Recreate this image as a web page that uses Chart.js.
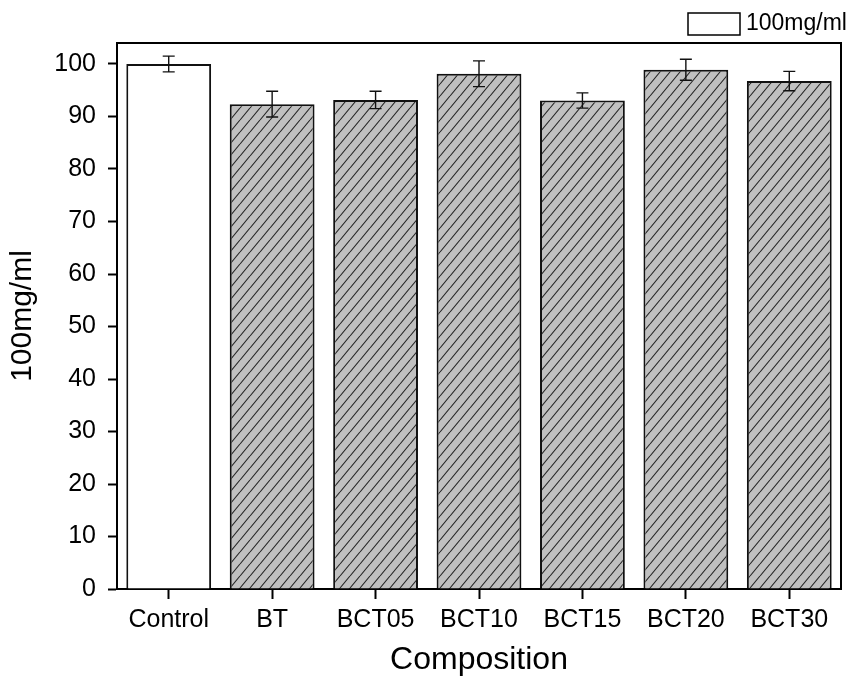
<!DOCTYPE html>
<html>
<head>
<meta charset="utf-8">
<script src="https://cdn.jsdelivr.net/npm/chart.js@4.4.1/dist/chart.umd.min.js"></script>
<style>
  html, body { margin: 0; padding: 0; background: #fff; }
  #wrap { width: 849px; height: 679px; }
</style>
</head>
<body>
<div id="wrap"><canvas id="c" width="849" height="679"></canvas></div>
<script>
// Cell viability per composition at 100 mg/ml (mean and standard deviation)
const categories = ['Control', 'BT', 'BCT05', 'BCT10', 'BCT15', 'BCT20', 'BCT30'];
const viability  = [100, 92.35, 93.15, 98.15, 93.05, 98.9, 96.75];
const deviation  = [1.5, 2.45, 1.65, 2.45, 1.45, 2.0, 1.85];
const yTickValues = [0, 10, 20, 30, 40, 50, 60, 70, 80, 90, 100];
const seriesLabel = '100mg/ml';
const xTitle = 'Composition';
const yTitle = '100mg/ml';

const FONT = '"Liberation Sans", Arial, sans-serif';

// diagonal hatch on grey
function hatchPattern() {
  const w = 10, h = 12;
  const cv = document.createElement('canvas');
  cv.width = w; cv.height = h;
  const g = cv.getContext('2d');
  g.fillStyle = '#c0c0c0';
  g.fillRect(0, 0, w, h);
  g.strokeStyle = '#262626';
  g.lineWidth = 1.1;
  g.beginPath();
  for (let k = -1; k <= 1; k++) {
    g.moveTo(k * w, h);
    g.lineTo(k * w + w, 0);
  }
  g.stroke();
  return g.createPattern(cv, 'repeat');
}
const hatch = hatchPattern();
const fills = categories.map((c, i) => i === 0 ? '#ffffff' : hatch);

// closed frame around the plot area
const framePlugin = {
  id: 'frame',
  afterDraw(chart) {
    const { ctx, chartArea: a } = chart;
    ctx.save();
    ctx.strokeStyle = '#000';
    ctx.lineWidth = 2;
    ctx.beginPath();
    ctx.moveTo(a.left, a.top);
    ctx.lineTo(a.right, a.top);
    ctx.lineTo(a.right, a.bottom);
    ctx.stroke();
    ctx.restore();
  }
};

// standard deviation whiskers
const errorBarPlugin = {
  id: 'errorBars',
  afterDatasetsDraw(chart) {
    const { ctx } = chart;
    const y = chart.scales.y;
    const meta = chart.getDatasetMeta(0);
    ctx.save();
    ctx.strokeStyle = '#111';
    ctx.lineWidth = 1.4;
    meta.data.forEach((bar, i) => {
      const v = viability[i], e = deviation[i];
      const yt = y.getPixelForValue(v + e);
      const yb = y.getPixelForValue(v - e);
      const cap = 6;
      ctx.beginPath();
      ctx.moveTo(bar.x, yt); ctx.lineTo(bar.x, yb);
      ctx.moveTo(bar.x - cap, yt); ctx.lineTo(bar.x + cap, yt);
      ctx.moveTo(bar.x - cap, yb); ctx.lineTo(bar.x + cap, yb);
      ctx.stroke();
    });
    ctx.restore();
  }
};

// legend entry in the top-right corner
const legendPlugin = {
  id: 'cornerLegend',
  afterDraw(chart) {
    const { ctx } = chart;
    ctx.save();
    ctx.fillStyle = '#fff';
    ctx.strokeStyle = '#000';
    ctx.lineWidth = 1.5;
    ctx.fillRect(688, 13, 52, 22);
    ctx.strokeRect(688, 13, 52, 22);
    ctx.fillStyle = '#000';
    ctx.font = '23px ' + FONT;
    ctx.textBaseline = 'middle';
    ctx.textAlign = 'left';
    ctx.fillText(chart.data.datasets[0].label, 746, 24);
    ctx.restore();
  }
};

new Chart(document.getElementById('c'), {
  type: 'bar',
  data: {
    labels: categories,
    datasets: [{
      label: seriesLabel,
      data: viability,
      backgroundColor: fills,
      borderColor: '#111',
      borderWidth: 2,
      barPercentage: 0.82,
      categoryPercentage: 1.0
    }]
  },
  options: {
    responsive: false,
    animation: false,
    devicePixelRatio: 1,
    layout: { padding: { top: 43, right: 8, left: 0, bottom: 0 } },
    plugins: {
      legend: { display: false },
      tooltip: { enabled: false }
    },
    scales: {
      x: {
        offset: true,
        grid: {
          offset: false,
          drawOnChartArea: false,
          drawTicks: true,
          tickLength: 10,
          tickWidth: 2,
          tickColor: '#000'
        },
        border: { display: true, width: 2, color: '#000' },
        ticks: {
          color: '#000',
          font: { family: FONT, size: 25 },
          padding: 6,
          maxRotation: 0,
          autoSkip: false
        },
        title: {
          display: true,
          text: xTitle,
          color: '#000',
          font: { family: FONT, size: 32, lineHeight: 1.2 },
          padding: { top: 0, bottom: 0 }
        },
        afterFit(scale) { scale.height = 90; }
      },
      y: {
        min: 0,
        max: 104,
        afterBuildTicks(scale) {
          scale.ticks = yTickValues.map(v => ({ value: v }));
        },
        grid: {
          drawOnChartArea: false,
          drawTicks: true,
          tickLength: 9,
          tickWidth: 2,
          tickColor: '#000'
        },
        border: { display: true, width: 2, color: '#000' },
        ticks: {
          color: '#000',
          font: { family: FONT, size: 25 },
          padding: 12
        },
        title: {
          display: true,
          text: yTitle,
          color: '#000',
          font: { family: FONT, size: 30, lineHeight: 1.2 },
          padding: { top: 5, bottom: 0 }
        },
        afterFit(scale) { scale.width = 117; }
      }
    }
  },
  plugins: [framePlugin, errorBarPlugin, legendPlugin]
});
</script>
</body>
</html>
